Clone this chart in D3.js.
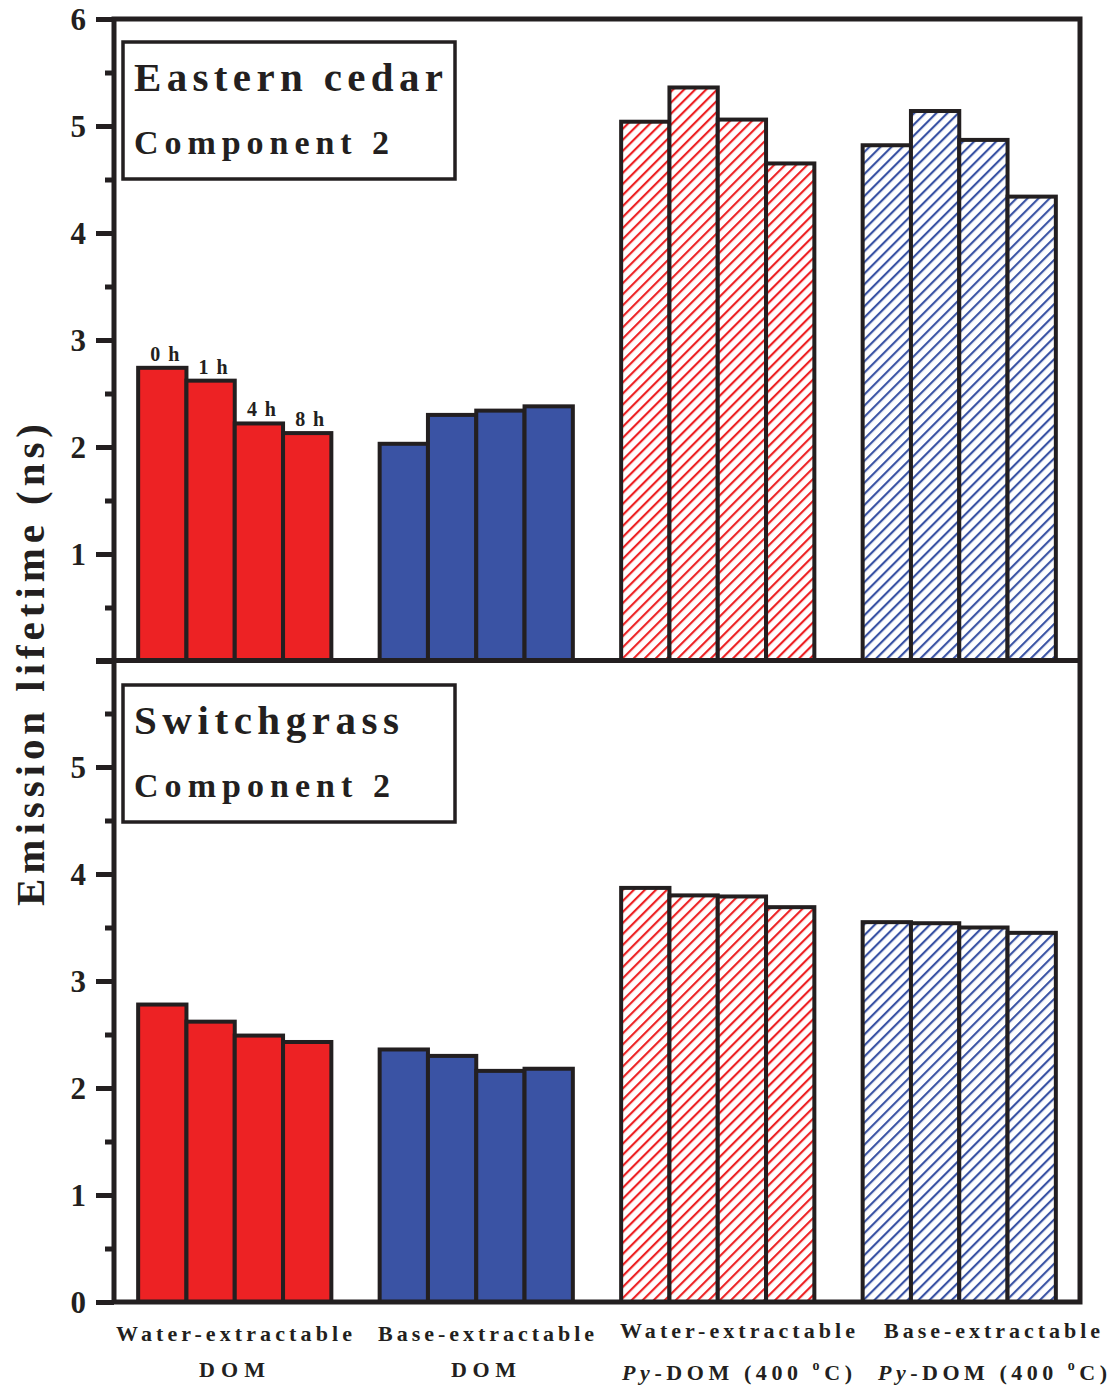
<!DOCTYPE html>
<html>
<head>
<meta charset="utf-8">
<script src="https://cdn.jsdelivr.net/npm/d3@7"></script>
<style>
  body { margin: 0; background: #fff; }
  text { font-family: "Liberation Serif", "Times New Roman", serif; font-weight: bold; fill: #231f20; }
</style>
</head>
<body>
<svg id="chart"></svg>
<script>
// data
const groups = ['wdom', 'bdom', 'wpy', 'bpy'];
const times = ['0 h', '1 h', '4 h', '8 h'];
const cedarValues = [
  [2.74, 2.62, 2.22, 2.13],
  [2.03, 2.30, 2.34, 2.38],
  [5.04, 5.36, 5.06, 4.65],
  [4.82, 5.14, 4.87, 4.34]
];
const grassValues = [
  [2.78, 2.62, 2.49, 2.43],
  [2.36, 2.30, 2.16, 2.18],
  [3.87, 3.80, 3.79, 3.69],
  [3.55, 3.54, 3.50, 3.45]
];
const panelTitles = [['Eastern cedar', 'Component 2'], ['Switchgrass', 'Component 2']];
const yTicks = [0, 1, 2, 3, 4, 5, 6];

const width = 1113, height = 1387;
const ink = '#231f20', red = '#ed2224', blue = '#3a53a4';
const margin = { left: 114, right: 33 };
const serif = '"Liberation Serif", "Times New Roman", serif';

const svg = d3.select('#chart').attr('width', width).attr('height', height);

// hatch patterns
const defs = svg.append('defs');
[['hatchRed', red], ['hatchBlue', blue]].forEach(([id, c]) => {
  const p = defs.append('pattern').attr('id', id)
    .attr('patternUnits', 'userSpaceOnUse')
    .attr('width', 7.8).attr('height', 7.8)
    .attr('patternTransform', 'rotate(45)');
  p.append('rect').attr('width', 7.8).attr('height', 7.8).attr('fill', '#fff');
  p.append('line').attr('x1', 1).attr('y1', 0).attr('x2', 1).attr('y2', 7.8)
    .attr('stroke', c).attr('stroke-width', 2.3);
});
const fills = [red, blue, 'url(#hatchRed)', 'url(#hatchBlue)'];

const x0 = d3.scaleBand().domain(groups)
  .range([margin.left, width - margin.right])
  .paddingInner(0.2).paddingOuter(0.1);
const x1 = d3.scaleBand().domain(times).range([0, x0.bandwidth()]);

const panels = [
  { values: cedarValues, top: 19, bottom: 661, labels: [1, 2, 3, 4, 5, 6], box: 42, len: [309, 255] },
  { values: grassValues, top: 660, bottom: 1302, labels: [0, 1, 2, 3, 4, 5], box: 685, len: [265, 256] }
];

panels.forEach((p, pi) => {
  const y = d3.scaleLinear().domain([0, 6]).range([p.bottom, p.top]);
  const g = svg.append('g');

  // bars
  groups.forEach((grp, gi) => {
    g.append('g').selectAll('rect').data(p.values[gi]).join('rect')
      .attr('x', (d, i) => x0(grp) + x1(times[i]))
      .attr('y', d => y(d))
      .attr('width', x1.bandwidth())
      .attr('height', d => y(0) - y(d))
      .attr('fill', fills[gi])
      .attr('stroke', ink).attr('stroke-width', 4);
  });

  // time labels on the first panel
  if (pi === 0) {
    g.selectAll('.tl').data(p.values[0]).join('text')
      .attr('x', (d, i) => x0(groups[0]) + x1(times[i]) + x1.bandwidth() / 2 - 12)
      .attr('y', d => y(d) - 7)
      .attr('font-size', 20)
      .attr('textLength', 29)
      .text((d, i) => times[i]);
  }

  // left axis: major ticks
  const ax = g.append('g').attr('transform', `translate(${margin.left},0)`)
    .call(d3.axisLeft(y).tickValues(yTicks).tickSize(18).tickFormat(d => p.labels.includes(d) ? d : ''));
  ax.select('.domain').remove();
  ax.selectAll('.tick line').attr('stroke', ink).attr('stroke-width', 5);
  ax.selectAll('.tick text').attr('font-size', 31).attr('font-family', serif)
    .attr('font-weight', 'bold').attr('fill', ink).attr('x', -28).attr('dy', '0.35em');
  // minor ticks
  const axm = g.append('g').attr('transform', `translate(${margin.left},0)`)
    .call(d3.axisLeft(y).tickValues(d3.range(0.5, 6, 1)).tickSize(9).tickFormat(''));
  axm.select('.domain').remove();
  axm.selectAll('.tick line').attr('stroke', ink).attr('stroke-width', 5);

  // legend box
  g.append('rect').attr('x', 123).attr('y', p.box).attr('width', 332).attr('height', 137)
    .attr('fill', '#fff').attr('stroke', ink).attr('stroke-width', 3.5);
  g.append('text').attr('x', 134).attr('y', p.box + 49)
    .attr('font-size', 41).attr('textLength', p.len[0])
    .text(panelTitles[pi][0]);
  g.append('text').attr('x', 134).attr('y', p.box + 112)
    .attr('font-size', 34).attr('textLength', p.len[1])
    .text(panelTitles[pi][1]);
});

// frame
svg.append('rect').attr('x', margin.left).attr('y', 19)
  .attr('width', width - margin.right - margin.left).attr('height', 1302 - 19)
  .attr('fill', 'none').attr('stroke', ink).attr('stroke-width', 5);
svg.append('line').attr('x1', margin.left).attr('x2', width - margin.right)
  .attr('y1', 660.5).attr('y2', 660.5).attr('stroke', ink).attr('stroke-width', 5);

// y title
svg.append('text')
  .attr('transform', 'translate(44,665) rotate(-90)')
  .attr('x', -241).attr('font-size', 41)
  .attr('textLength', 482)
  .text('Emission lifetime (ns)');

// x category labels
const line1 = ['Water-extractable', 'Base-extractable', 'Water-extractable', 'Base-extractable'];
const l1 = [[116, 236], [378, 216], [620, 235], [884, 216]];
const l2 = [[199, 66], [451, 65], [622, 230], [878, 229]];
const xl = svg.append('g');
groups.forEach((grp, i) => {
  const py = i >= 2;
  xl.append('text').attr('x', l1[i][0]).attr('y', py ? 1338 : 1341)
    .attr('font-size', 22).attr('textLength', l1[i][1])
    .text(line1[i]);
  const t = xl.append('text').attr('x', l2[i][0]).attr('y', py ? 1380 : 1377)
    .attr('font-size', 22).attr('textLength', l2[i][1]);
  if (!py) {
    t.text('DOM');
  } else {
    t.append('tspan').attr('font-style', 'italic').text('Py');
    t.append('tspan').text('-DOM (400 ');
    t.append('tspan').attr('font-size', 14).attr('dy', -10).text('o');
    t.append('tspan').attr('dy', 10).text('C)');
  }
});
</script>
</body>
</html>
